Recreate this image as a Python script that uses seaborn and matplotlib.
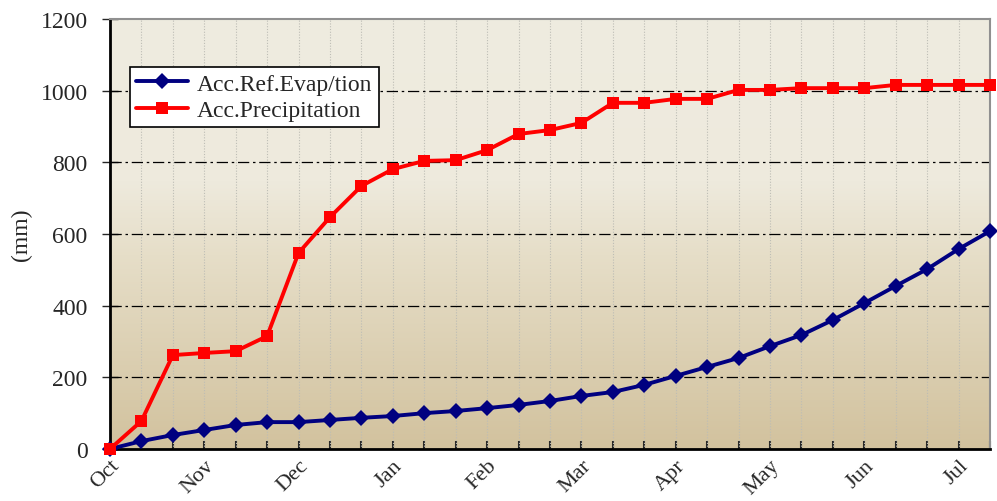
import numpy as np
import pandas as pd
import seaborn as sns
import matplotlib
matplotlib.use("Agg")
from matplotlib import pyplot as plt
from matplotlib.colors import LinearSegmentedColormap

# dekad index (3 per month) starting Oct
months = ['Oct', 'Nov', 'Dec', 'Jan', 'Feb', 'Mar', 'Apr', 'May', 'Jun', 'Jul']
evap = [0, 22, 39, 53, 67, 75, 75, 81, 87, 92, 100, 106, 114, 123, 134,
        148, 159, 179, 204, 229, 254, 287, 318, 360, 407, 455, 502, 558, 608]
precip = [0, 78, 262, 268, 273, 315, 547, 647, 734, 781, 804, 806, 834, 879, 890,
          910, 966, 966, 977, 977, 1002, 1002, 1007, 1007, 1007, 1016, 1016, 1016, 1016]
series_names = ['Acc.Ref.Evap/tion', 'Acc.Precipitation']

step = np.arange(len(evap))
df = pd.DataFrame({'step': np.concatenate([step, step]),
                   'value': evap + precip,
                   'series': [series_names[0]] * len(evap) + [series_names[1]] * len(precip)})

sns.set_style('ticks')
plt.rcParams['font.family'] = ['Liberation Serif', 'DejaVu Serif']

fig = plt.figure(figsize=(9.97, 5.02), dpi=100)
ax = fig.add_axes([0.1103, 0.1036, 0.8827, 0.8566])

# background gradient
cmap = LinearSegmentedColormap.from_list('bg', [(0, '#d2c29e'), (0.45, '#e6dec8'),
                                                (0.62, '#eeeadd'), (1, '#efece0')])
grad = np.linspace(0, 1, 256).reshape(-1, 1)
ax.imshow(grad, cmap=cmap, aspect='auto', origin='lower',
          extent=[0, len(evap) - 1, 0, 1200], zorder=0)

# grid
for x in step[1:-1]:
    ax.axvline(x, color='#bdbdb5', lw=0.8, ls=(0, (1, 1.5)), zorder=1)
for y in range(200, 1200, 200):
    ax.axhline(y, color='black', lw=0.9, ls=(0, (9, 3, 2, 3)), zorder=1)

sns.lineplot(data=df, x='step', y='value', hue='series', style='series',
             palette={series_names[0]: '#000080', series_names[1]: '#ff0000'},
             markers={series_names[0]: 'D', series_names[1]: 's'},
             dashes=False, lw=2.8, markersize=8, markeredgewidth=0,
             ax=ax, zorder=3, clip_on=False)

ax.set_xlim(0, len(evap) - 1)
ax.set_ylim(0, 1200)
ax.set_xticks(step)
ax.set_xticklabels([months[i // 3] if i % 3 == 0 else '' for i in step],
                   rotation=45, ha='right', rotation_mode='anchor', fontsize=16)
ax.set_yticks(range(0, 1201, 200))
ax.tick_params(axis='y', labelsize=17, direction='inout', length=12, width=1, pad=10)
ax.tick_params(axis='x', direction='in', length=6, width=1.5, pad=5)
ax.set_xlabel('')
ax.set_ylabel('(mm)', fontsize=17)
ax.yaxis.set_label_coords(-0.088, 0.5)

for s in ['left', 'bottom']:
    ax.spines[s].set_linewidth(2)
    ax.spines[s].set_color('black')
for s in ['top', 'right']:
    ax.spines[s].set_linewidth(1.5)
    ax.spines[s].set_color('#909090')

leg = ax.legend(loc='upper left', bbox_to_anchor=(0.0227, 0.888), borderaxespad=0,
                fontsize=17, frameon=True, fancybox=False, framealpha=1,
                edgecolor='black', handlelength=2.2, borderpad=0.25,
                labelspacing=0.2, handletextpad=0.4)
leg.get_frame().set_linewidth(1.2)
leg.set_title(None)

fig.savefig('out.png', dpi=100)
